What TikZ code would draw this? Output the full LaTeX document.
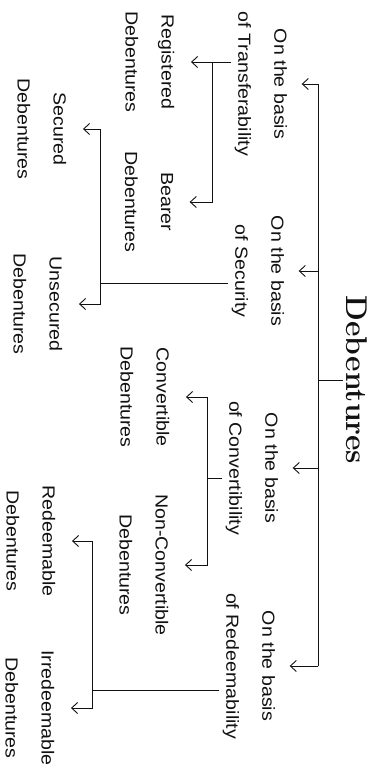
\documentclass[tikz,border=0pt]{standalone}
\usepackage{fontspec}
\newfontfamily\labelfont{Liberation Sans}[FakeStretch=1.12]
\usetikzlibrary{arrows.meta}
\definecolor{ink}{HTML}{111111}
\definecolor{paper}{HTML}{FFFFFF}

\begin{document}
\begin{tikzpicture}[
    x=1pt, y=-1pt,
    >={Straight Barb[length=6pt, width=11pt]},
    every node/.style={text=ink, rotate=-90, align=center},
    title/.style={font=\fontsize{30}{30}\selectfont\bfseries},
    cat/.style={font=\labelfont\fontsize{17.5}{36}\selectfont},
    leaf/.style={font=\labelfont\fontsize{17.5}{36}\selectfont},
    link/.style={draw=ink, line width=0.9pt},
    catarr/.style={link, ->, shorten >=11pt},
    leafarr/.style={link, ->, shorten >=13pt},
  ]

  % Background (fixes the page size)
  \fill[paper] (0,0) rectangle (386,774);

  % === Root ===
  \node[title] (title) at (357,380) {Debentures};

  % === Bases of classification ===
  \node[cat] (catT) at (261,84)  {On the basis\\of Transferability};
  \node[cat] (catS) at (258,271) {On the basis\\of Security};
  \node[cat] (catC) at (252,468) {On the basis\\of Convertibility};
  \node[cat] (catR) at (249,666) {On the basis\\of Redeemability};

  % === Kinds ===
  \node[leaf] (reg)       at (150,62)  {Registered\\Debentures};
  \node[leaf] (bearer)    at (149,202) {Bearer\\Debentures};
  \node[leaf] (secured)   at (42,129)  {Secured\\Debentures};
  \node[leaf] (unsecured) at (38,304)  {Unsecured\\Debentures};
  \node[leaf] (conv)      at (145,397) {Convertible\\Debentures};
  \node[leaf] (nonconv)   at (144,565) {Non-Convertible\\Debentures};
  \node[leaf] (redeem)    at (31,541)  {Redeemable\\Debentures};
  \node[leaf] (irredeem)  at (30,708)  {Irredeemable\\Debentures};

  % --- bus lines and joints ---
  \coordinate (mbus) at (318,0);
  \coordinate (busT) at (212,0);
  \coordinate (jS) at (100,283);
  \coordinate (jC) at (207,478);
  \coordinate (jR) at (92,690);

  % === Root to bases ===
  \draw[link] (title.south) -- (title.south -| mbus);
  \draw[link] (mbus |- catT) -- (mbus |- catR);
  \foreach \c in {catT, catS, catC, catR}
    \draw[catarr] (mbus |- \c) -- (\c.north);

  % === Transferability ===
  \draw[leafarr] (catT.south |- reg) -- (reg.north);
  \draw[leafarr] (busT |- reg) |- (bearer.north);

  % === Security ===
  \draw[link] (catS.south |- jS) -- (jS);
  \draw[leafarr] (jS) |- (secured.north);
  \draw[leafarr] (jS) |- (unsecured.north);

  % === Convertibility ===
  \draw[link] (catC.south |- jC) -- (jC);
  \draw[leafarr] (jC) |- (conv.north);
  \draw[leafarr] (jC) |- (nonconv.north);

  % === Redeemability ===
  \draw[link] (catR.south |- jR) -- (jR);
  \draw[leafarr] (jR) |- (redeem.north);
  \draw[leafarr] (jR) |- (irredeem.north);

\end{tikzpicture}
\end{document}
